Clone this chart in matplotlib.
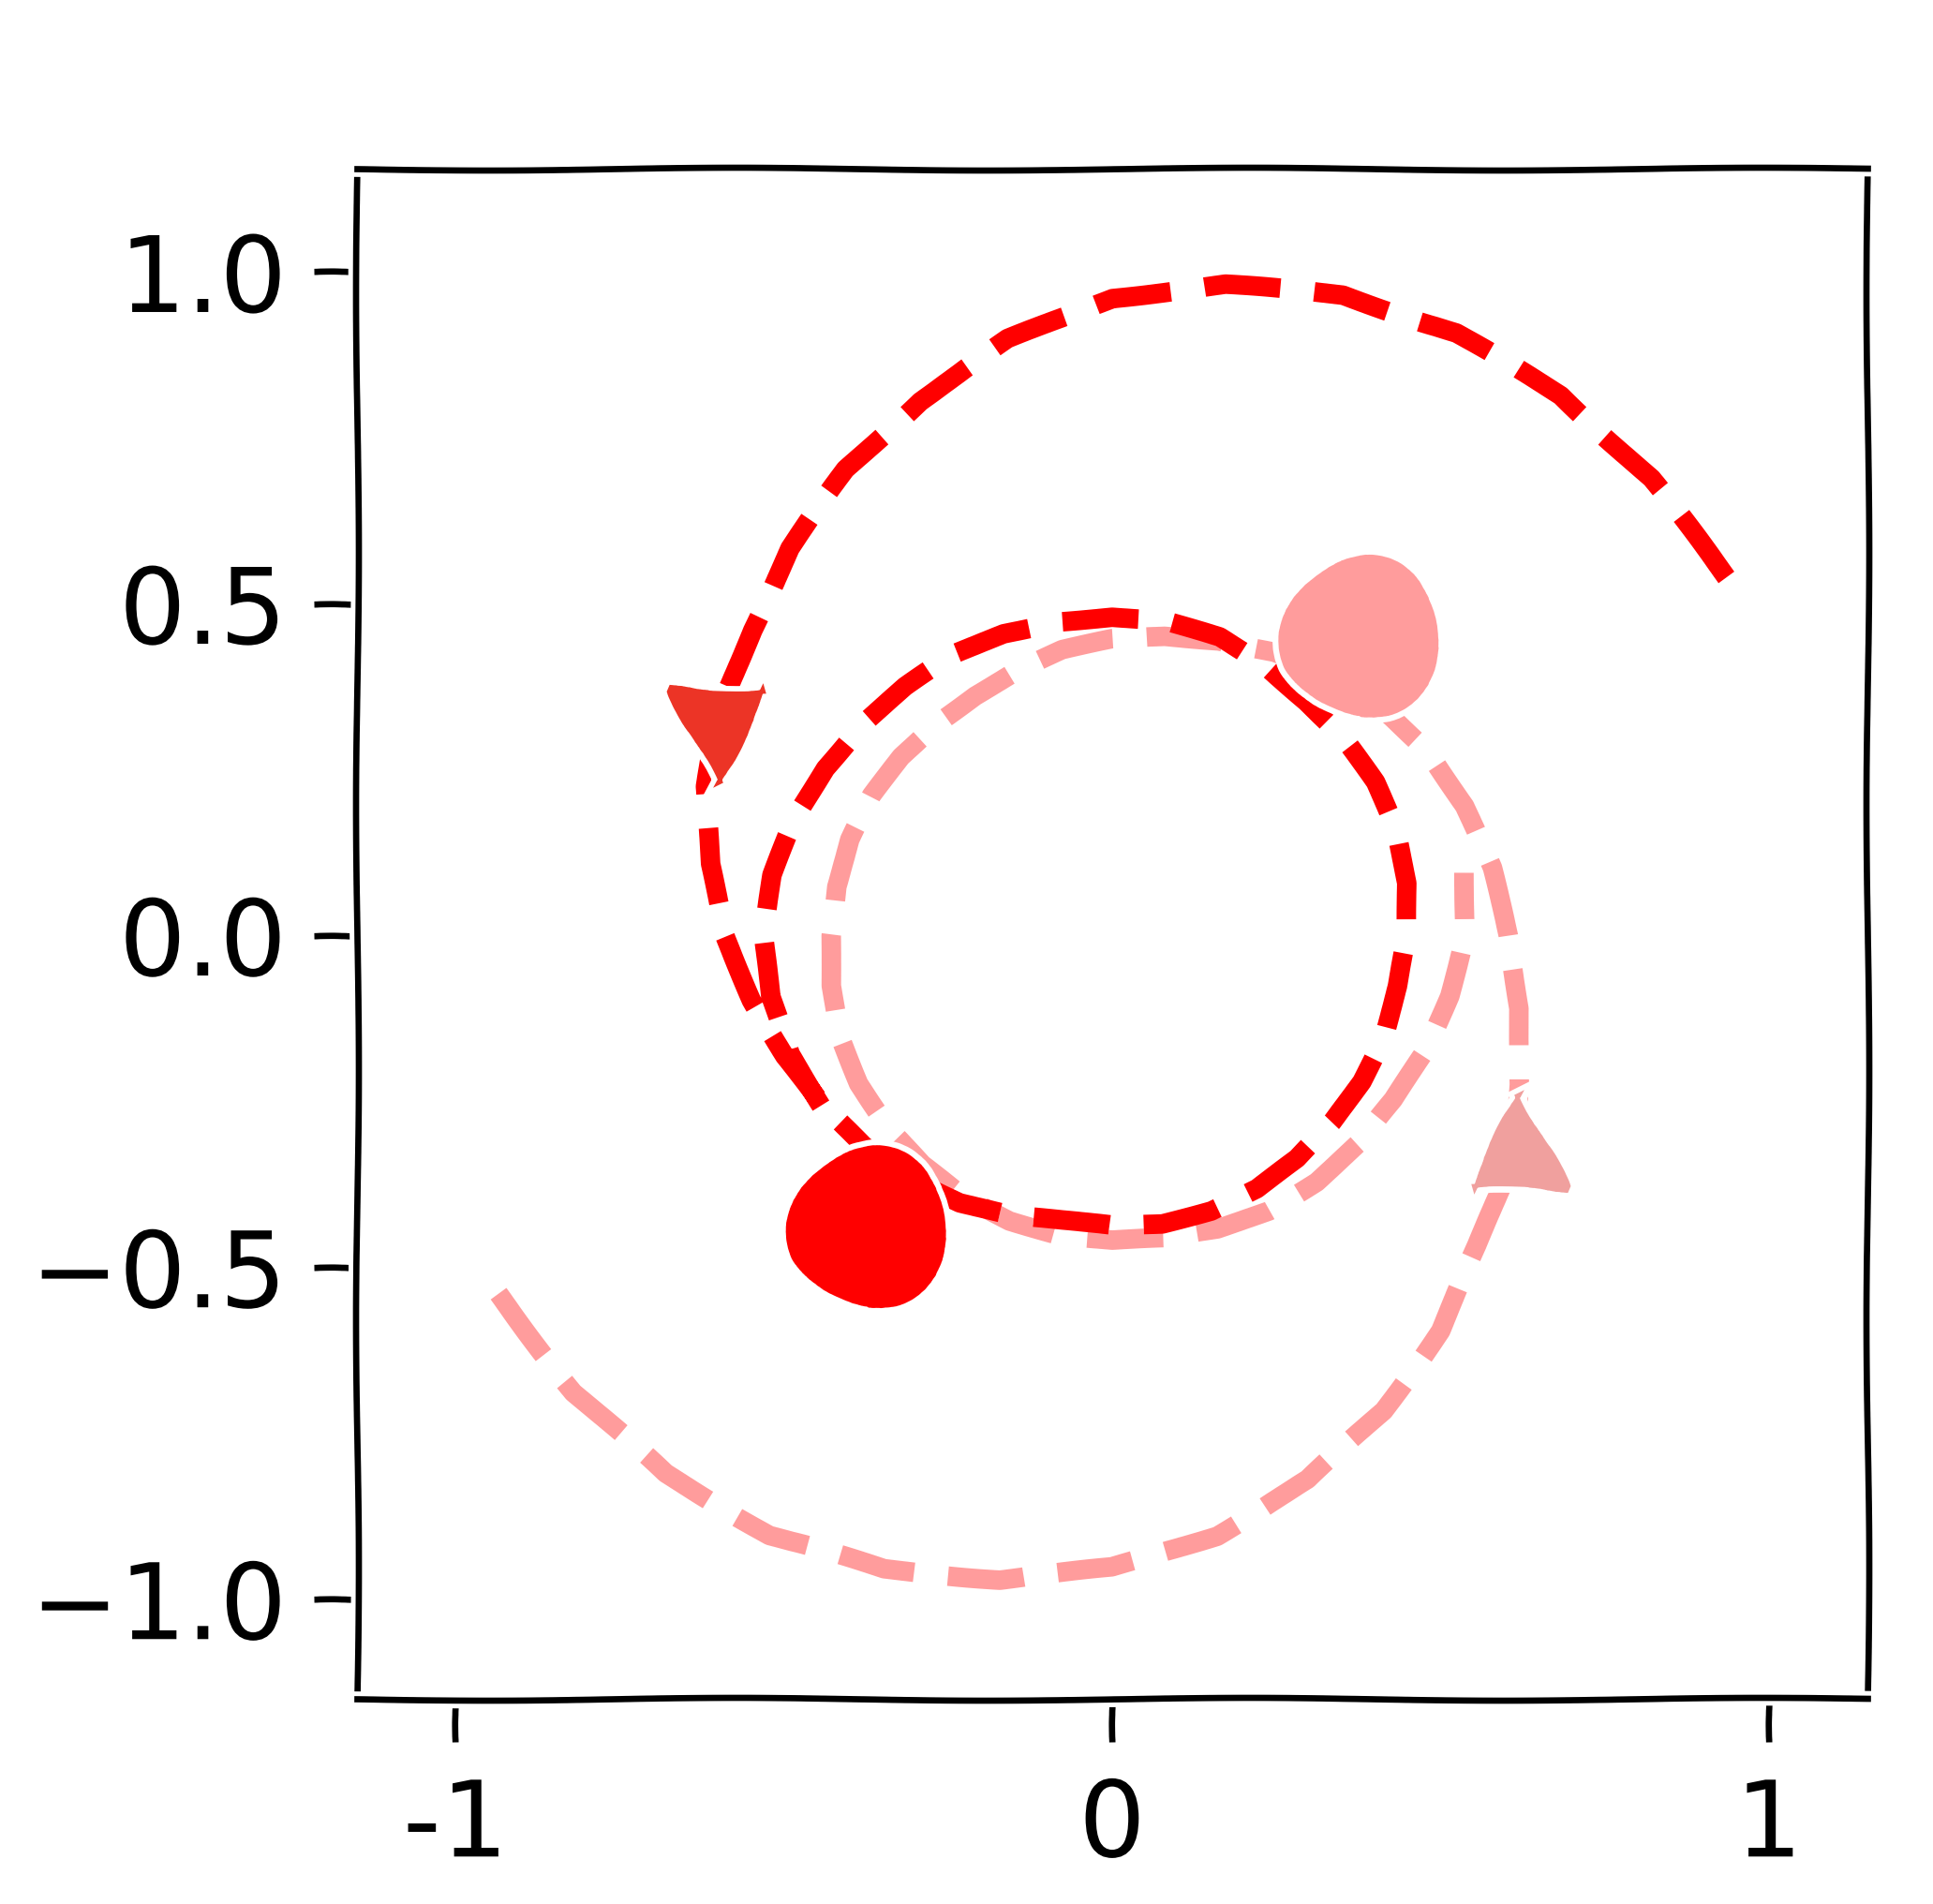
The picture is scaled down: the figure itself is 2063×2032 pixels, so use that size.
import numpy as np
import matplotlib
matplotlib.use("Agg")
import matplotlib.pyplot as plt

# red trajectory: radius every 10 degrees, spiralling in
red_theta = list(range(30, 580, 10))
red_r = [1.080, 1.072, 1.063, 1.048, 1.028, 0.996, 0.962, 0.912, 0.858, 0.811,
         0.762, 0.717, 0.688, 0.658, 0.623, 0.590, 0.556, 0.531, 0.512, 0.493,
         0.476, 0.464, 0.450, 0.437, 0.436, 0.439, 0.440, 0.441, 0.440, 0.438,
         0.438, 0.439, 0.441, 0.450, 0.457, 0.460, 0.461, 0.461, 0.462, 0.470,
         0.478, 0.479, 0.480, 0.482, 0.485, 0.487, 0.489, 0.497, 0.506, 0.515,
         0.524, 0.531, 0.530, 0.522, 0.510]

# pink trajectory, the mirrored one
pink_theta = list(range(210, 740, 10))
pink_r = [1.079, 1.071, 1.058, 1.043, 1.016, 0.985, 0.953, 0.917, 0.873, 0.826,
          0.777, 0.727, 0.698, 0.659, 0.631, 0.603, 0.586, 0.572, 0.557, 0.534,
          0.513, 0.494, 0.475, 0.459, 0.446, 0.436, 0.425, 0.419, 0.418, 0.419,
          0.421, 0.424, 0.427, 0.430, 0.435, 0.440, 0.444, 0.448, 0.452, 0.455,
          0.456, 0.457, 0.459, 0.464, 0.471, 0.477, 0.483, 0.489, 0.496, 0.507,
          0.520, 0.537, 0.546]

# direction arrows and dots
red_arrow = (-0.60, 0.30)
pink_arrow = (0.62, -0.31)
red_dot = (-0.37, -0.44)
pink_dot = (0.38, 0.45)

xticks = [-1, 0, 1]
xticklabels = ["-1", "0", "1"]
yticks = [-1.0, -0.5, 0.0, 0.5, 1.0]
yticklabels = ["\u22121.0", "\u22120.5", "0.0", "0.5", "1.0"]

RED = "#ff0000"
PINK = "#ff9c9c"


def to_xy(theta, r):
    t = np.radians(theta)
    r = np.asarray(r)
    return r * np.cos(t), r * np.sin(t)


with plt.xkcd(scale=1.5, length=300, randomness=2):
    plt.rcParams["font.family"] = ["DejaVu Sans"]
    fig = plt.figure(figsize=(2063 / 300, 2032 / 300), dpi=300)
    ax = fig.add_axes([381 / 2063, 1 - 1813 / 2032, (1993 - 381) / 2063, (1813 - 180) / 2032])

    ax.plot(*to_xy(pink_theta, pink_r), color=PINK, lw=5.0, dashes=(3.9, 1.75))
    ax.plot(*to_xy(red_theta, red_r), color=RED, lw=5.0, dashes=(3.9, 1.75))

    marks = [
        ax.plot(*pink_arrow, marker="^", ms=24, color="#f0a09e", ls="none")[0],
        ax.plot(*red_arrow, marker="v", ms=24, color="#ec3426", ls="none")[0],
        ax.plot(*pink_dot, marker="o", ms=40, color=PINK, ls="none")[0],
        ax.plot(*red_dot, marker="o", ms=40, color=RED, ls="none")[0],
    ]
    for m in marks:
        m.set_sketch_params(scale=8, length=500, randomness=2)

    ax.set_xlim(-1.15, 1.15)
    ax.set_ylim(-1.15, 1.156)
    ax.set_xticks(xticks)
    ax.set_xticklabels(xticklabels)
    ax.set_yticks(yticks)
    ax.set_yticklabels(yticklabels)
    ax.tick_params(labelsize=27, length=11, width=1.6)
    ax.tick_params(axis="x", pad=9)
    ax.tick_params(axis="y", pad=7)
    for s in ax.spines.values():
        s.set_linewidth(1.6)
        s.set_sketch_params(scale=1.5, length=600, randomness=2)

    fig.savefig("out.png", dpi=300)
